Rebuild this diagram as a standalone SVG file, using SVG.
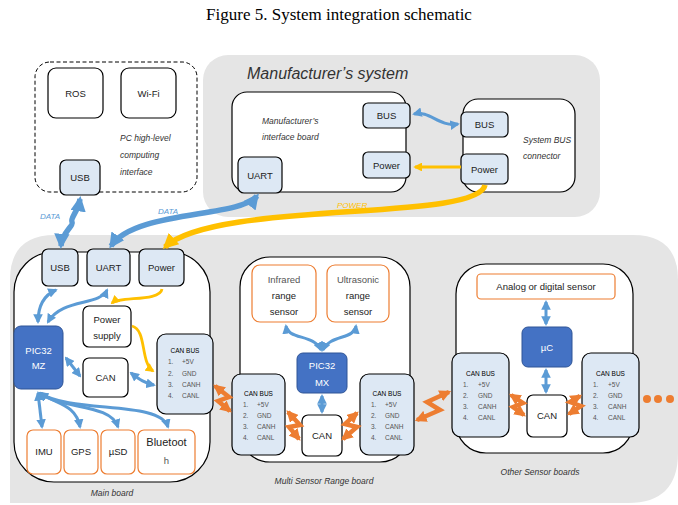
<svg xmlns="http://www.w3.org/2000/svg" width="678" height="505" viewBox="0 0 678 505">
<defs>
<style>
.bg{fill:#e5e5e5;stroke:none}
.board{fill:#fff;stroke:#000;stroke-width:1.2}
.lb{fill:#dde8f4;stroke:#000;stroke-width:1.2}
.wb{fill:#fff;stroke:#000;stroke-width:1.2}
.ob{fill:#fff;stroke:#ed7d31;stroke-width:1.2}
.db{fill:#4472c4;stroke:#2f5597;stroke-width:1}
text{font-family:"Liberation Sans",Arial,sans-serif;font-size:9.5px;fill:#222}
.c{text-anchor:middle}
.it{font-style:italic;fill:#333}
.wt{fill:#fff}
.gt{fill:#555}
.sm{font-size:6.5px}
.bl{fill:none;stroke:#5b9bd5;stroke-width:3;marker-start:url(#ab);marker-end:url(#ab)}
.blt{fill:none;stroke:#5b9bd5;stroke-width:5.5;marker-start:url(#abt);marker-end:url(#abt)}
.yl{fill:none;stroke:#ffc000;stroke-width:2.8;marker-end:url(#ay)}
.ylt{fill:none;stroke:#ffc000;stroke-width:5.5;marker-end:url(#ayt)}
.or{fill:none;stroke:#ed7d31;stroke-width:4.5;stroke-linejoin:miter;marker-start:url(#ao);marker-end:url(#ao)}
</style>
<marker id="ab" viewBox="0 0 10 10" refX="8" refY="5" markerWidth="3.2" markerHeight="3.2" orient="auto-start-reverse"><path d="M0,0L10,5L0,10z" fill="#5b9bd5"/></marker>
<marker id="abt" viewBox="0 0 10 10" refX="8" refY="5" markerWidth="2.8" markerHeight="2.8" orient="auto-start-reverse"><path d="M0,0L10,5L0,10z" fill="#5b9bd5"/></marker>
<marker id="ay" viewBox="0 0 10 10" refX="8" refY="5" markerWidth="3.2" markerHeight="3.2" orient="auto-start-reverse"><path d="M0,0L10,5L0,10z" fill="#ffc000"/></marker>
<marker id="ayt" viewBox="0 0 10 10" refX="8" refY="5" markerWidth="2.8" markerHeight="2.8" orient="auto-start-reverse"><path d="M0,0L10,5L0,10z" fill="#ffc000"/></marker>
<marker id="ao" viewBox="0 0 10 10" refX="8" refY="5" markerWidth="2.6" markerHeight="2.6" orient="auto-start-reverse"><path d="M0,0L10,5L0,10z" fill="#ed7d31"/></marker>
</defs>
<rect width="678" height="505" fill="#fff"/>
<text x="339" y="20" class="c" style="font-family:'Liberation Serif','Times New Roman',serif;font-size:17px;fill:#000">Figure 5. System integration schematic</text>

<g id="panels">
<rect class="bg" x="203" y="55" width="397" height="162" rx="25"/>
<path class="bg" d="M10,280 Q10,235 55,235 L633,235 Q678,235 678,280 L678,453 Q678,503 628,503 L10,503 Z"/>
<text x="247" y="79" class="it" style="font-size:16px">Manufacturer’s system</text>
</g>

<g id="pc">
<rect x="35" y="62" width="162" height="130" rx="15" fill="#fff" stroke="#000" stroke-width="1" stroke-dasharray="4,2.5"/>
<text x="120" y="141" class="it" style="font-size:8.5px">PC high-level</text>
<text x="120" y="158" class="it" style="font-size:8.5px">computing</text>
<text x="120" y="175" class="it" style="font-size:8.5px">interface</text>
</g>
<g id="ros"><rect class="wb" x="48" y="68" width="55" height="50" rx="8"/><text x="75.5" y="97" class="c">ROS</text></g>
<g id="wifi"><rect class="wb" x="121" y="68" width="55" height="50" rx="8"/><text x="148.5" y="97" class="c">Wi-Fi</text></g>
<g id="usb"><rect class="lb" x="60" y="160" width="40" height="35" rx="6"/><text x="80" y="181" class="c">USB</text></g>

<g id="mfr-board">
<rect class="board" x="232" y="92" width="174" height="100" rx="15"/>
<text x="262" y="124" class="it" style="font-size:8.5px">Manufacturer’s</text>
<text x="262" y="140" class="it" style="font-size:8.5px">interface board</text>
</g>
<g id="mfr-bus"><rect class="lb" x="363" y="103" width="47" height="25" rx="5"/><text x="386.5" y="119" class="c">BUS</text></g>
<g id="mfr-power"><rect class="lb" x="363" y="152" width="47" height="26" rx="5"/><text x="386.5" y="169" class="c">Power</text></g>
<g id="mfr-uart"><rect class="lb" x="238" y="157" width="44" height="36" rx="6"/><text x="260" y="179" class="c">UART</text></g>
<g id="sysbus">
<rect class="board" x="463" y="99" width="112" height="93" rx="15"/>
<text x="523" y="143" class="it" style="font-size:8.5px">System BUS</text>
<text x="523" y="159" class="it" style="font-size:8.5px">connector</text>
</g>
<g id="sys-bus"><rect class="lb" x="461" y="112" width="47" height="25" rx="5"/><text x="484.5" y="128" class="c">BUS</text></g>
<g id="sys-power"><rect class="lb" x="461" y="154" width="47" height="30" rx="5"/><text x="484.5" y="173" class="c">Power</text></g>

<g id="main-board">
<rect class="board" x="14" y="252" width="196" height="230" rx="40"/>
<text x="112" y="496" class="c it" style="font-size:8.5px">Main board</text>
</g>
<g id="main-usb"><rect class="lb" x="42" y="249" width="36" height="37" rx="6"/><text x="60" y="271" class="c">USB</text></g>
<g id="main-uart"><rect class="lb" x="87" y="249" width="43" height="37" rx="6"/><text x="108.5" y="271" class="c">UART</text></g>
<g id="main-power"><rect class="lb" x="139" y="249" width="45" height="37" rx="6"/><text x="161.5" y="271" class="c">Power</text></g>
<g id="pic32mz"><rect class="db" x="14" y="326" width="49" height="63" rx="7"/><text x="38.5" y="354" class="c wt">PIC32</text><text x="38.5" y="369" class="c wt">MZ</text></g>
<g id="psupply"><rect class="wb" x="83" y="306" width="48" height="41" rx="6"/><text x="107" y="323" class="c">Power</text><text x="107" y="339" class="c">supply</text></g>
<g id="main-can"><rect class="wb" x="83" y="358" width="45" height="39" rx="6"/><text x="105.5" y="381" class="c">CAN</text></g>
<g id="main-canbus">
<rect class="lb" x="157" y="334" width="56" height="80" rx="9"/>
<text x="185" y="353" class="c sm" style="fill:#000">CAN BUS</text>
<text x="168" y="364" class="sm gt">1.</text><text x="182" y="364" class="sm gt">+5V</text>
<text x="168" y="376" class="sm gt">2.</text><text x="182" y="376" class="sm gt">GND</text>
<text x="168" y="387" class="sm gt">3.</text><text x="182" y="387" class="sm gt">CANH</text>
<text x="168" y="398" class="sm gt">4.</text><text x="182" y="398" class="sm gt">CANL</text>
</g>
<g id="imu"><rect class="ob" x="27" y="430" width="34" height="44" rx="6"/><text x="44" y="455" class="c">IMU</text></g>
<g id="gps"><rect class="ob" x="64" y="430" width="34" height="44" rx="6"/><text x="81" y="455" class="c">GPS</text></g>
<g id="usd"><rect class="ob" x="101" y="430" width="34" height="44" rx="6"/><text x="118" y="455" class="c">µSD</text></g>
<g id="bluetooth"><rect class="ob" x="138" y="430" width="57" height="44" rx="6"/><text x="166.5" y="446" class="c" style="font-size:11px">Bluetoot</text><text x="166.5" y="464" class="c gt">h</text></g>

<g id="multi-board">
<rect class="board" x="240" y="257" width="170" height="205" rx="30"/>
<text x="324" y="484" class="c it" style="font-size:8.5px">Multi Sensor Range board</text>
</g>
<g id="infrared"><rect class="ob" x="252" y="265" width="64" height="57" rx="8"/><text x="284" y="283" class="c gt">Infrared</text><text x="284" y="299" class="c">range</text><text x="284" y="315" class="c">sensor</text></g>
<g id="ultrasonic"><rect class="ob" x="327" y="265" width="62" height="57" rx="8"/><text x="358" y="283" class="c gt">Ultrasonic</text><text x="358" y="299" class="c">range</text><text x="358" y="315" class="c">sensor</text></g>
<g id="pic32mx"><rect class="db" x="297" y="353" width="50" height="40" rx="6"/><text x="322" y="369" class="c wt">PIC32</text><text x="322" y="386" class="c wt">MX</text></g>
<g id="multi-can"><rect class="wb" x="302" y="415" width="40" height="41" rx="6"/><text x="322" y="439" class="c">CAN</text></g>
<g id="multi-canbus-l">
<rect class="lb" x="232" y="374" width="53" height="81" rx="9"/>
<text x="258.5" y="396" class="c sm" style="fill:#000">CAN BUS</text>
<text x="243" y="407" class="sm gt">1.</text><text x="257" y="407" class="sm gt">+5V</text>
<text x="243" y="418" class="sm gt">2.</text><text x="257" y="418" class="sm gt">GND</text>
<text x="243" y="429" class="sm gt">3.</text><text x="257" y="429" class="sm gt">CANH</text>
<text x="243" y="440" class="sm gt">4.</text><text x="257" y="440" class="sm gt">CANL</text>
</g>
<g id="multi-canbus-r">
<rect class="lb" x="360" y="374" width="54" height="81" rx="9"/>
<text x="387" y="396" class="c sm" style="fill:#000">CAN BUS</text>
<text x="371" y="407" class="sm gt">1.</text><text x="385" y="407" class="sm gt">+5V</text>
<text x="371" y="418" class="sm gt">2.</text><text x="385" y="418" class="sm gt">GND</text>
<text x="371" y="429" class="sm gt">3.</text><text x="385" y="429" class="sm gt">CANH</text>
<text x="371" y="440" class="sm gt">4.</text><text x="385" y="440" class="sm gt">CANL</text>
</g>

<g id="other-board">
<rect class="board" x="456" y="264" width="177" height="189" rx="30"/>
<text x="540" y="475" class="c it" style="font-size:8.5px">Other Sensor boards</text>
</g>
<g id="analog"><rect class="ob" x="477" y="274" width="138" height="25" rx="4"/><text x="546" y="290" class="c">Analog or digital sensor</text></g>
<g id="uc"><rect class="db" x="522" y="327" width="50" height="40" rx="6"/><text x="547" y="351" class="c wt">µC</text></g>
<g id="other-can"><rect class="wb" x="527" y="395" width="40" height="42" rx="6"/><text x="547" y="419" class="c">CAN</text></g>
<g id="other-canbus-l">
<rect class="lb" x="452" y="353" width="57" height="84" rx="9"/>
<text x="480.5" y="376" class="c sm" style="fill:#000">CAN BUS</text>
<text x="463" y="387" class="sm gt">1.</text><text x="478" y="387" class="sm gt">+5V</text>
<text x="463" y="398" class="sm gt">2.</text><text x="478" y="398" class="sm gt">GND</text>
<text x="463" y="409" class="sm gt">3.</text><text x="478" y="409" class="sm gt">CANH</text>
<text x="463" y="420" class="sm gt">4.</text><text x="478" y="420" class="sm gt">CANL</text>
</g>
<g id="other-canbus-r">
<rect class="lb" x="582" y="353" width="57" height="84" rx="9"/>
<text x="610.5" y="376" class="c sm" style="fill:#000">CAN BUS</text>
<text x="593" y="387" class="sm gt">1.</text><text x="608" y="387" class="sm gt">+5V</text>
<text x="593" y="398" class="sm gt">2.</text><text x="608" y="398" class="sm gt">GND</text>
<text x="593" y="409" class="sm gt">3.</text><text x="608" y="409" class="sm gt">CANH</text>
<text x="593" y="420" class="sm gt">4.</text><text x="608" y="420" class="sm gt">CANL</text>
</g>
<g id="more">
<circle cx="647" cy="399" r="4" fill="#ed7d31"/><circle cx="658" cy="399" r="4" fill="#ed7d31"/><circle cx="670" cy="399" r="4" fill="#ed7d31"/>
</g>

<g id="connectors">
<path class="blt" d="M80,199 C78,212 70,218 72,222 C74,226 62,232 61,246"/>
<path class="blt" d="M257,196 C240,218 135,210 111,246"/>
<path class="ylt" d="M485,185 C478,222 215,200 165,247"/>
<path class="bl" d="M414,114 C430,110 438,127 458,124"/>
<path class="yl" d="M461,167 L415,167"/>
<text x="40" y="219" class="it" style="font-size:8px;fill:#5b9bd5">DATA</text>
<text x="158" y="214" class="it" style="font-size:8px;fill:#5b9bd5">DATA</text>
<text x="337" y="208" class="it" style="font-size:8px;fill:#ffc000">POWER</text>

<path class="bl" d="M56,290 C42,296 38,308 38,322"/>
<path class="bl" d="M107,290 C100,306 62,298 48,322"/>
<path class="yl" d="M162,289 C160,302 120,296 112,303"/>
<path class="yl" d="M132,326 C147,330 140,362 153,371"/>
<path class="bl" d="M66,358 L80,376"/>
<path class="bl" d="M131,373 C140,380 145,383 154,385"/>
<path class="bl" d="M38,393 L42,427"/>
<path class="bl" d="M40,393 C56,404 76,404 80,427"/>
<path class="bl" d="M40,393 C62,410 110,403 118,427"/>
<path class="bl" d="M40,393 C72,414 160,400 168,427"/>

<path class="bl" d="M286,326 C288,340 314,334 321,350"/>
<path class="bl" d="M356,326 C354,340 330,334 323,350"/>
<path class="bl" d="M322,396 L322,412"/>

<path class="bl" d="M546,302 L546,324"/>
<path class="bl" d="M546,370 L546,392"/>

<path class="or" d="M215,386 L229,397 L218,401 L230,411"/>
<path class="or" d="M288,412 L300,425 L289,427 L299,439"/>
<path class="or" d="M343,439 L357,427 L345,424 L357,413"/>
<path class="or" d="M417,420 L440,410 L427,402 L449,392"/>
<path class="or" d="M511,395 L523,403 L513,407 L524,415"/>
<path class="or" d="M569,414 L581,406 L570,402 L580,396"/>
</g>
</svg>
